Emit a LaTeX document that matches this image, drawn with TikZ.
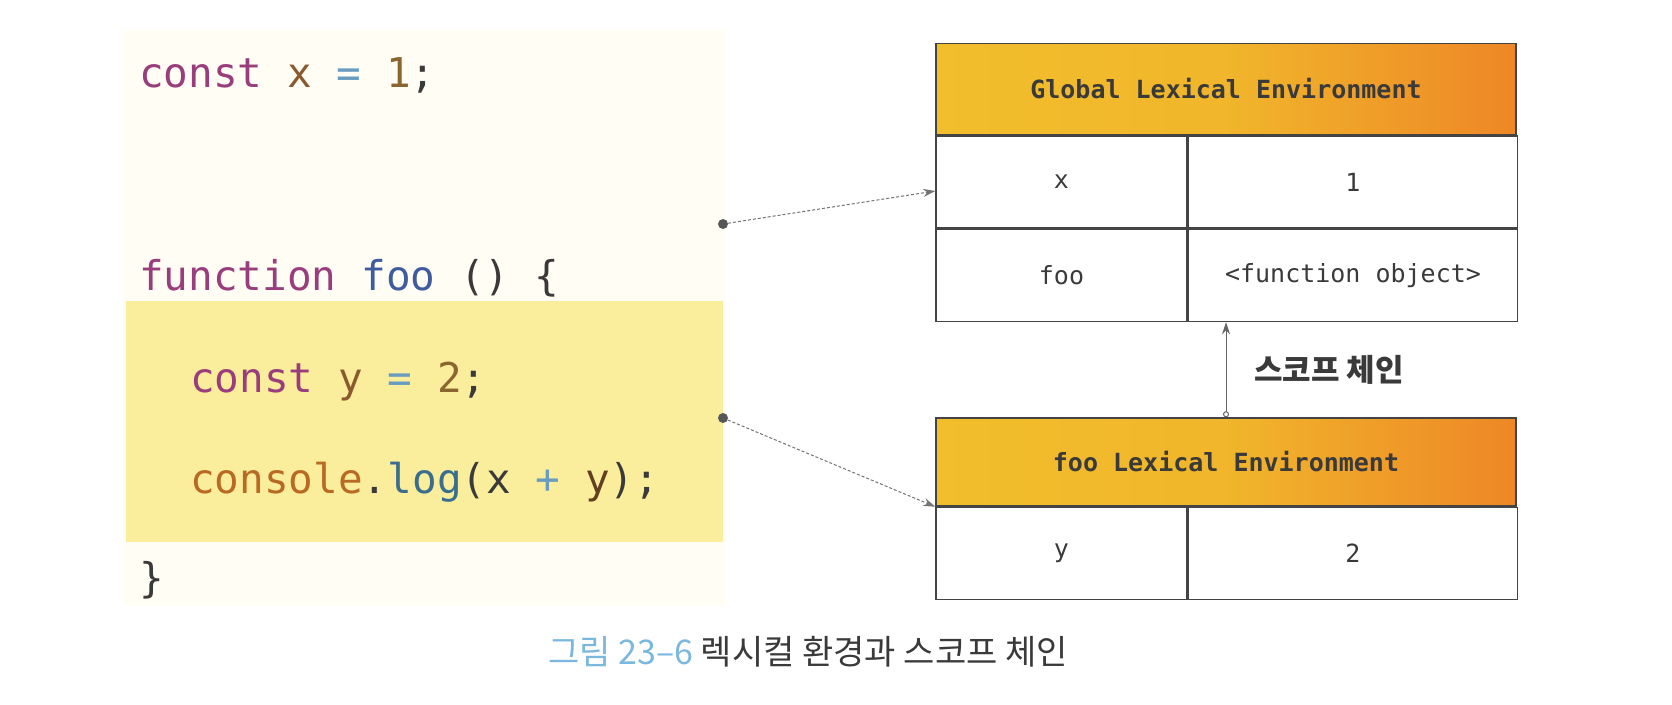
\documentclass[tikz,border=0pt]{standalone}
\usepackage{fontspec}
\setmonofont{DejaVu Sans Mono}
\newfontfamily\krfont{Noto Sans CJK KR}
\usetikzlibrary{arrows.meta}

\definecolor{kwpurple}{HTML}{9A3D7C}
\definecolor{varbrown}{HTML}{8A5A2E}
\definecolor{opblue}{HTML}{6A9CC0}
\definecolor{numbrown}{HTML}{8B6530}
\definecolor{fnblue}{HTML}{3E5C9E}
\definecolor{conorange}{HTML}{B86A24}
\definecolor{logblue}{HTML}{3A6E8E}
\definecolor{punct}{HTML}{3A3A3A}
\definecolor{creambg}{HTML}{FFFDF4}
\definecolor{hilite}{HTML}{FAEE9C}
\definecolor{hdrgold}{HTML}{F1BE2C}
\definecolor{hdrorange}{HTML}{EE8726}
\definecolor{framegray}{HTML}{444444}
\definecolor{capblue}{HTML}{7AB8DE}

\begin{document}
\begin{tikzpicture}[x=1pt,y=-1pt]
\tikzstyle{hdr}=[draw=framegray,line width=1.5pt,minimum width=580pt,minimum height=91pt,
  left color=hdrgold,right color=hdrorange,middle color=hdrgold!85!hdrorange,
  font=\fontsize{25}{28}\selectfont\ttfamily\bfseries,text=punct]
\tikzstyle{keycell}=[draw=framegray,line width=1.5pt,fill=white,minimum width=251pt,
  minimum height=92pt,anchor=north west,font=\fontsize{25}{28}\selectfont\ttfamily,text=punct]
\tikzstyle{valcell}=[keycell,minimum width=329pt]
\tikzstyle{code}=[anchor=base west,inner sep=0pt,font=\fontsize{41}{48}\selectfont\ttfamily]
\tikzstyle{dot}=[circle,fill=framegray!90,inner sep=0pt,minimum size=10pt]
\tikzstyle{link}=[densely dashed,gray!90!black,line width=1pt,-{Stealth[length=12pt,width=8pt]}]

\useasboundingbox[fill=white] (0,0) rectangle (1672,704);

% code
\fill[creambg] (123,30) rectangle (725,605);
\fill[hilite] (126,301) rectangle (723,542);

\node[code] (l1) at (139,87) {\textcolor{kwpurple}{const} \textcolor{varbrown}{x} \textcolor{opblue}{=} \textcolor{numbrown}{1}\textcolor{punct}{;}};
\node[code] (l2) at (139,290) {\textcolor{kwpurple}{function} \textcolor{fnblue}{foo} \textcolor{punct}{() \{}};
\node[code] (l3) at (190,392) {\textcolor{kwpurple}{const} \textcolor{varbrown}{y} \textcolor{opblue}{=} \textcolor{numbrown}{2}\textcolor{punct}{;}};
\node[code] (l4) at (190,493) {\textcolor{conorange}{console}\textcolor{punct}{.}\textcolor{logblue}{log}\textcolor{punct}{(x} \textcolor{opblue}{+} \textcolor{varbrown!70!black}{y}\textcolor{punct}{);}};
\node[code] (l5) at (139,592) {\textcolor{punct}{\}}};

% global environment
\node[hdr] (ghead) at (1226,89) {Global Lexical Environment};
\node[keycell] (gx) at (ghead.south west) {x};
\node[valcell] (gone) at (gx.north east) {1};
\node[keycell] (gfoo) at (gx.south west) {foo};
\node[valcell] (gobj) at (gfoo.north east) {<function object>};

% foo environment
\node[hdr,minimum height=88pt] (fhead) at (1226,462) {foo Lexical Environment};
\node[keycell] (fy) at (fhead.south west) {y};
\node[valcell] (ftwo) at (fy.north east) {2};

% references
\node[dot] (d1) at (723,224) {};
\node[dot] (d2) at (723,418) {};
\draw[link] (d1) -- ([yshift=-9pt]gx.west);
\draw[link] (d2) -- (fhead.south west);

% scope chain
\draw[gray!80!black,line width=1pt,{Circle[open,length=6pt]}-{Stealth[length=12pt,width=8pt]}]
  (fhead.north) -- (fhead.north |- gobj.south);
\node[anchor=base west,inner sep=0pt,font=\krfont\bfseries\fontsize{31}{34}\selectfont,text=punct]
  (chain) at (1254,381) {스코프 체인};

% caption
\node[inner sep=0pt,anchor=base,font=\krfont\fontsize{34}{38}\selectfont] (cap) at (808,664)
  {\textcolor{capblue}{그림 23–6} \textcolor{punct}{렉시컬 환경과 스코프 체인}};
\end{tikzpicture}
\end{document}
